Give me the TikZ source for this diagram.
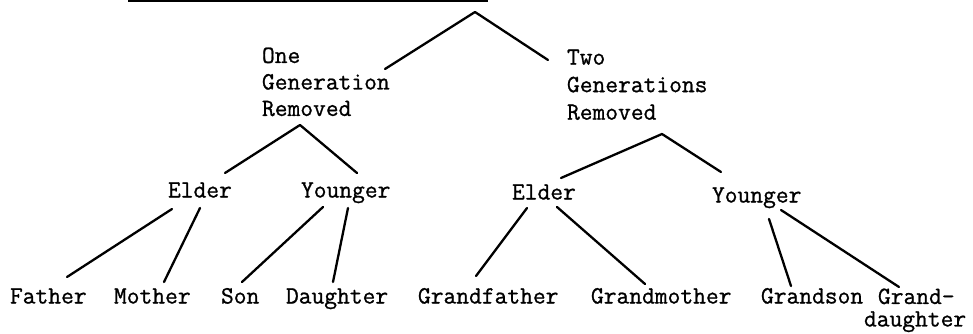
\documentclass[tikz,border=0pt]{standalone}
\usepackage{fontspec}
\newfontfamily\twfont{Latin Modern Mono}[FakeBold=0.9]
\begin{document}
\begin{tikzpicture}[x=1pt,y=-1pt,
  lbl/.style={inner sep=0pt,outer sep=0pt,font=\twfont\fontsize{24.8}{26.5}\selectfont},
  word/.style={lbl,anchor=base west},
  block/.style={lbl,anchor=north west,align=left},
  edge/.style={line width=2.3pt,line cap=round,line join=round}]
\useasboundingbox[fill=white] (0,0) rectangle (973,334);
% cut-off underline of the heading above
\draw[line width=2pt] (128,1) -- (488,1);
% apexes
\coordinate (apex0) at (475,12);
\coordinate (apexL) at (300,125);
\coordinate (apexR) at (662,134);
% labels
\node[block] (one) at (262,47.5) {One\\Generation\\Removed};
\node[block] (two) at (567,49.5) {Two\\[1pt]Generations\\[1pt]Removed};
\node[word] (elderL) at (168,197.5) {Elder};
\node[word] (youngerL) at (301,197.5) {Younger};
\node[word] (elderR) at (512,199.5) {Elder};
\node[word] (youngerR) at (712,202.5) {Younger};
\node[word] (father) at (10,303.5) {Father};
\node[word] (mother) at (114,303.5) {Mother};
\node[word] (son) at (221,303.5) {Son};
\node[word] (daughter) at (286,303.5) {Daughter};
\node[word] (gfather) at (418,303.5) {Grandfather};
\node[word] (gmother) at (591,303.5) {Grandmother};
\node[word] (gson) at (761,303.5) {Grandson};
\node[block] (gdaughter) at (864,288.5) {\hspace*{14pt}Grand-\\[-4pt]daughter};
% connectors
\draw[edge] ([shift={(123,21.5)}]one.north west) -- (apex0) -- ([shift={(-19,10.5)}]two.north west);
\draw[edge] ([shift={(57,-24.5)}]elderL.base west) -- (apexL) -- ([shift={(56,-24.5)}]youngerL.base west);
\draw[edge] ([shift={(49,-21.5)}]elderR.base west) -- (apexR) -- ([shift={(9,-30.5)}]youngerR.base west);
\draw[edge] ([shift={(4,11.5)}]elderL.base west) -- ([shift={(57,-26.5)}]father.base west);
\draw[edge] ([shift={(32,10.5)}]elderL.base west) -- ([shift={(50,-21.5)}]mother.base west);
\draw[edge] ([shift={(22,9.5)}]youngerL.base west) -- ([shift={(21,-21.5)}]son.base west);
\draw[edge] ([shift={(47,10.5)}]youngerL.base west) -- ([shift={(47,-21.5)}]daughter.base west);
\draw[edge] ([shift={(15,8.5)}]elderR.base west) -- ([shift={(58,-27.5)}]gfather.base west);
\draw[edge] ([shift={(45,7.5)}]elderR.base west) -- ([shift={(54,-19.5)}]gmother.base west);
\draw[edge] ([shift={(57,16.5)}]youngerR.base west) -- ([shift={(30,-17.5)}]gson.base west);
\draw[edge] ([shift={(69,7.5)}]youngerR.base west) -- ([shift={(35,-1.5)}]gdaughter.north west);
\end{tikzpicture}
\end{document}
